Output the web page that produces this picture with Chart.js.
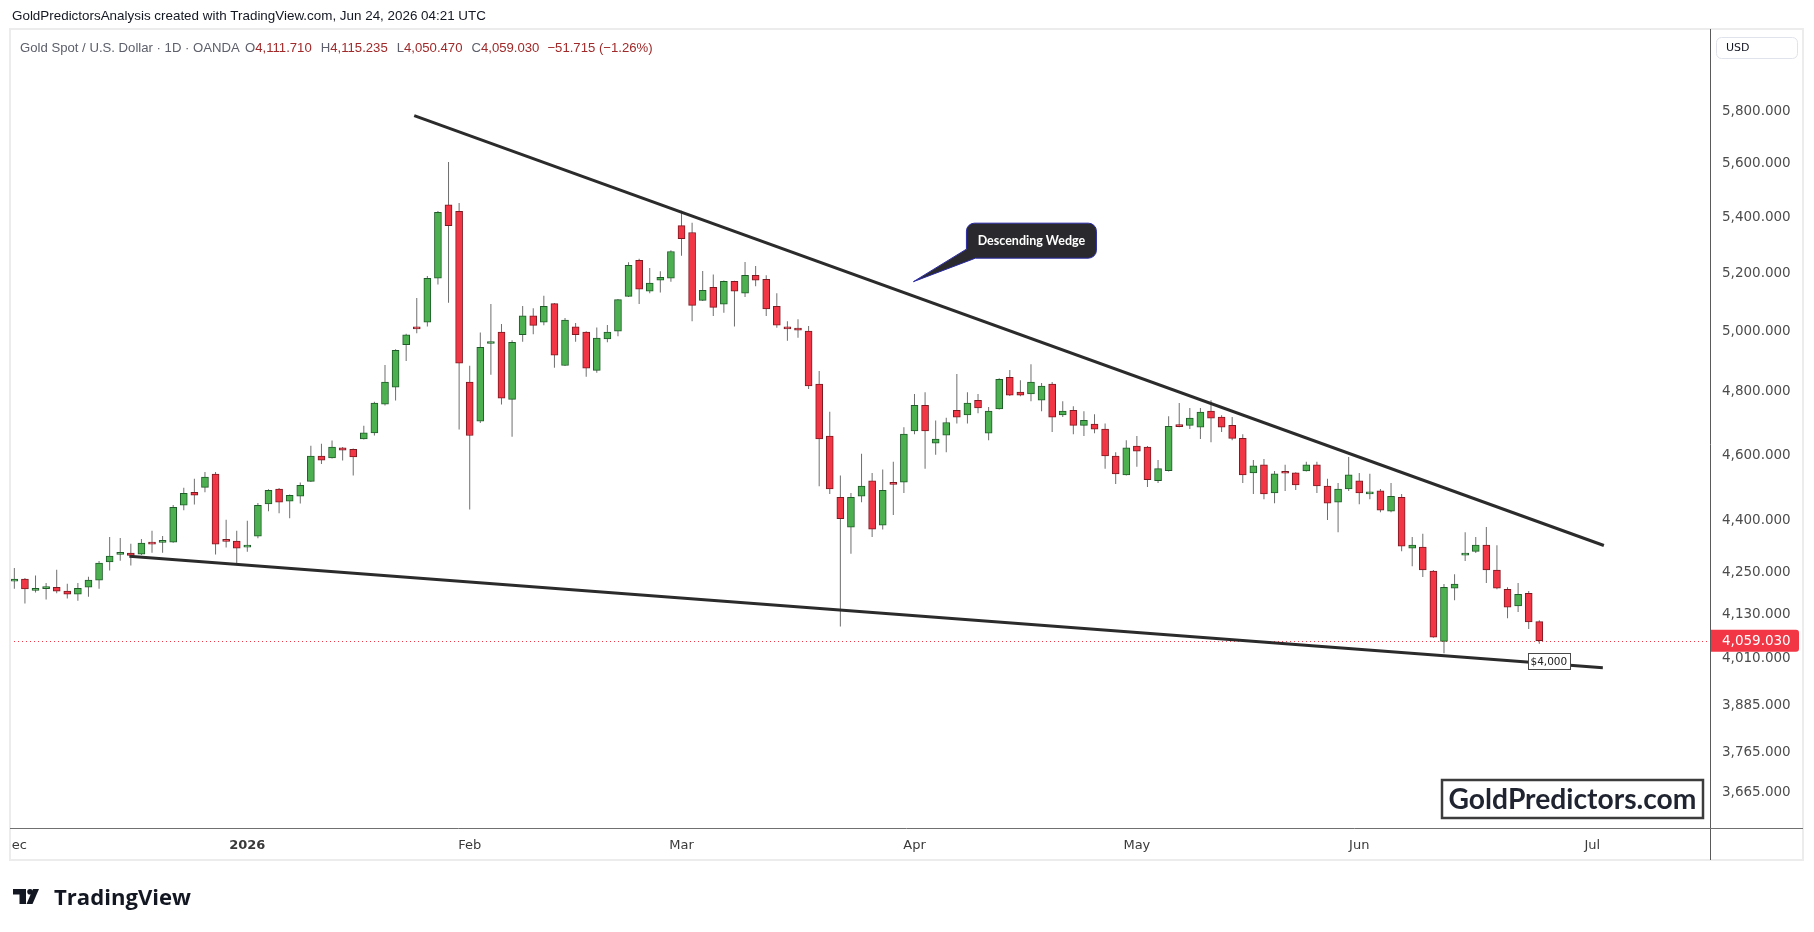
<!DOCTYPE html>
<html>
<head>
<meta charset="utf-8">
<title>Gold Spot / U.S. Dollar 1D</title>
<script src="https://cdn.jsdelivr.net/npm/chart.js@4"></script>
<style>
  html, body { margin: 0; padding: 0; background: #fff; }
</style>
</head>
<body>
<canvas id="goldChart" width="1814" height="932"></canvas>
<script>
// daily candles, 1 Dec 2025 .. 24 Jun 2026 (trading days only)
const opens = [4225,4231,4199,4204,4208,4197,4188,4208,4228,4280,
  4302,4306,4303,4338,4337,4338,4447,4486,4501,4541,
  4342,4341,4323,4355,4451,4496,4459,4474,4519,4597,
  4591,4622,4618,4650,4669,4760,4815,4955,5015,5031,
  5182,5445,5421,4832,4706,4959,4997,4776,4989,5052,
  5031,5094,4886,5015,4997,4870,4974,5000,5119,5245,
  5137,5175,5182,5369,5344,5105,5150,5092,5171,5130,
  5192,5178,5085,5015,5011,5001,4825,4659,4471,4382,
  4474,4521,4388,4512,4517,4675,4757,4637,4662,4741,
  4726,4773,4668,4745,4847,4799,4793,4773,4825,4726,
  4741,4693,4697,4681,4597,4539,4628,4625,4521,4552,
  4691,4693,4687,4738,4719,4693,4652,4545,4570,4484,
  4546,4545,4551,4570,4505,4456,4496,4521,4481,4490,
  4429,4471,4320,4323,4254,4057,4205,4300,4311,4329,
  4257,4202,4155,4191,4111.71];
const highs = [4263,4234,4241,4220,4258,4218,4220,4238,4283,4353,
  4350,4333,4347,4371,4356,4448,4500,4527,4548,4548,
  4404,4371,4401,4454,4495,4499,4479,4516,4629,4635,
  4645,4625,4620,4692,4768,4888,4940,4992,5113,5190,
  5422,5604,5451,4885,4996,5093,5025,4970,5086,5078,
  5121,5096,5045,5028,5000,5013,5021,5110,5238,5250,
  5218,5206,5281,5423,5379,5207,5195,5174,5173,5239,
  5225,5192,5130,5034,5041,5018,4868,4736,4537,4484,
  4604,4545,4555,4579,4687,4793,4799,4708,4717,4858,
  4799,4793,4751,4844,4871,4838,4890,4829,4832,4770,
  4754,4738,4728,4699,4609,4646,4659,4628,4585,4722,
  4764,4748,4748,4773,4725,4719,4665,4585,4588,4551,
  4570,4547,4579,4579,4527,4514,4594,4545,4542,4496,
  4514,4481,4353,4362,4257,4217,4245,4367,4353,4382,
  4329,4208,4220,4197,4115.235];
const lows = [4204,4162,4193,4173,4191,4176,4170,4181,4204,4256,
  4284,4270,4300,4307,4307,4336,4432,4449,4486,4302,
  4322,4272,4310,4349,4429,4423,4408,4452,4517,4572,
  4589,4583,4537,4648,4661,4756,4772,4901,4993,5016,
  5160,5097,4680,4434,4700,4856,4759,4657,4965,4990,
  5020,4879,4884,4965,4849,4862,4963,4983,5117,5093,
  5130,5132,5170,5261,5034,5103,5052,5063,5016,5117,
  5154,5052,5012,4968,4978,4809,4504,4481,4098,4304,
  4456,4353,4375,4418,4484,4665,4558,4601,4609,4699,
  4699,4731,4646,4743,4787,4786,4770,4738,4672,4719,
  4665,4659,4668,4558,4511,4537,4564,4502,4514,4549,
  4687,4681,4650,4640,4672,4646,4514,4481,4465,4453,
  4490,4493,4549,4484,4403,4367,4490,4450,4465,4426,
  4426,4311,4268,4237,4067,4025,4171,4283,4306,4220,
  4202,4121,4138,4091,4050.47];
const closes = [4231,4203,4201,4206,4197,4188,4205,4228,4277,4297,
  4304,4299,4335,4332,4339,4441,4483,4477,4532,4332,
  4340,4320,4329,4447,4492,4456,4477,4507,4597,4584,
  4625,4615,4594,4669,4764,4832,4936,4988,5008,5182,
  5417,5369,4894,4661,4946,4962,4780,4963,5052,5020,
  5085,4920,5038,4989,4877,4977,4997,5108,5227,5144,
  5165,5185,5276,5322,5088,5140,5081,5171,5137,5192,
  5175,5076,5021,5008,5004,4819,4650,4496,4407,4471,
  4505,4376,4492,4510,4665,4757,4675,4650,4702,4719,
  4764,4748,4738,4841,4789,4789,4832,4819,4719,4738,
  4693,4709,4681,4597,4542,4622,4612,4524,4558,4690,
  4689,4716,4735,4716,4687,4652,4539,4567,4481,4542,
  4544,4508,4570,4505,4453,4496,4539,4484,4487,4432,
  4474,4326,4329,4257,4069,4208,4217,4306,4329,4257,
  4205,4152,4188,4110.745,4059.03];

// month labels sit on the first trading day of each month (bar index)
const monthIdx = [0, 22, 43, 63, 85, 106, 127, 149];
const monthLabels = ['Dec', '2026', 'Feb', 'Mar', 'Apr', 'May', 'Jun', 'Jul'];
const yTicks = [3665, 3765, 3885, 4010, 4130, 4250, 4400, 4600, 4800, 5000, 5200, 5400, 5600, 5800];

// drawn trend lines (bar index, price)
const wedgeUpper = [{x: 37.76, y: 5782}, {x: 150.1, y: 4328}];
const wedgeLower = [{x: 10.86, y: 4297}, {x: 150.0, y: 3986}];
const calloutTip = {x: 84.9, y: 5170};
const supportTag = {x: 144.9, y: 4003};

const UP = '#4caf50', UP_EDGE = '#1e5b28';
const DOWN = '#f23645', DOWN_EDGE = '#7c1a22';
const WICK = '#6f6f6f';
const last = closes.length - 1;
const isUp = i => closes[i] >= opens[i];

const fmt = v => v.toLocaleString('en-US', {minimumFractionDigits: 3, maximumFractionDigits: 3});

function fitFont(c, text, weight, family, width) {
  c.font = weight + ' 20px ' + family;
  const size = 20 * width / c.measureText(text).width;
  c.font = weight + ' ' + size.toFixed(2) + 'px ' + family;
}

const overlay = {
  id: 'overlay',
  beforeDraw(chart) {
    const c = chart.ctx;
    c.save();
    c.fillStyle = '#fff';
    c.fillRect(0, 0, chart.width, chart.height);
    c.restore();
  },
  beforeDatasetsDraw(chart) {
    // dotted last-price line
    const c = chart.ctx, a = chart.chartArea;
    const y = Math.round(chart.scales.y.getPixelForValue(closes[last])) + 0.5;
    c.save();
    c.strokeStyle = DOWN;
    c.lineWidth = 1;
    c.setLineDash([1, 3]);
    c.beginPath(); c.moveTo(a.left, y); c.lineTo(a.right, y); c.stroke();
    c.restore();
  },
  afterDraw(chart) {
    const c = chart.ctx;
    const xs = chart.scales.x, ys = chart.scales.y;
    c.save();

    // widget edge cuts the first month label
    c.fillStyle = '#fff';
    c.fillRect(0, 829, 10, 31);
    c.strokeStyle = '#ececec';
    c.lineWidth = 2;
    c.strokeRect(10, 29, 1793, 831);

    // axis lines
    c.lineWidth = 1;
    c.strokeStyle = '#5a5a5a';
    c.beginPath(); c.moveTo(1710.5, 29); c.lineTo(1710.5, 860); c.stroke();
    c.strokeStyle = '#707070';
    c.beginPath(); c.moveTo(10, 828.5); c.lineTo(1803, 828.5); c.stroke();

    // snapshot header
    c.textBaseline = 'middle';
    c.textAlign = 'left';
    c.fillStyle = '#131722';
    fitFont(c, 'GoldPredictorsAnalysis created with TradingView.com, Jun 24, 2026 04:21 UTC', 'normal', '"Liberation Sans"', 474);
    c.fillText('GoldPredictorsAnalysis created with TradingView.com, Jun 24, 2026 04:21 UTC', 12, 16);

    // OHLC legend, laid out left to right
    const chg = closes[last] - closes[last - 1];
    const pct = chg / closes[last - 1] * 100;
    const minus = s => s.replace('-', '\u2212');
    const GRAY = '#5d606b', VAL = '#a02a2a';
    const title = 'Gold Spot / U.S. Dollar \u00b7 1D \u00b7 OANDA';
    fitFont(c, title, 'normal', '"Liberation Sans"', 220);
    c.fillStyle = GRAY;
    c.fillText(title, 20, 48);
    const parts = [
      ['O', GRAY, 5], [fmt(opens[last]), VAL, 0],
      ['H', GRAY, 9], [fmt(highs[last]), VAL, 0],
      ['L', GRAY, 9], [fmt(lows[last]), VAL, 0],
      ['C', GRAY, 9], [fmt(closes[last]), VAL, 0],
      [minus(fmt(chg)) + ' (' + minus(pct.toFixed(2)) + '%)', VAL, 8]
    ];
    let lx = 240;
    parts.forEach(([t, col, gap]) => {
      lx += gap;
      c.fillStyle = col;
      c.fillText(t, lx, 48);
      lx += c.measureText(t).width;
    });

    // currency box
    c.strokeStyle = '#e0e3eb';
    c.fillStyle = '#fff';
    c.beginPath(); c.roundRect(1716.5, 37.5, 81, 21, 5); c.fill(); c.stroke();
    c.fillStyle = '#131722';
    c.font = '11px "DejaVu Sans"';
    c.fillText('USD', 1726, 48.5);

    // last price tag on the axis
    const py = ys.getPixelForValue(closes[last]);
    c.fillStyle = DOWN;
    c.beginPath(); c.roundRect(1711, py - 11, 88, 22, [0, 3, 3, 0]); c.fill();
    c.fillStyle = '#fff';
    c.font = '13.5px "DejaVu Sans"';
    c.fillText(fmt(closes[last]), 1722, py + 0.5);

    // callout
    const tx = xs.getPixelForValue(calloutTip.x), ty = ys.getPixelForValue(calloutTip.y);
    const bx = tx + 53, by = ty - 58.5, bw = 130, bh = 35, r = 8;
    c.beginPath();
    c.moveTo(bx + r, by);
    c.lineTo(bx + bw - r, by); c.arcTo(bx + bw, by, bx + bw, by + r, r);
    c.lineTo(bx + bw, by + bh - r); c.arcTo(bx + bw, by + bh, bx + bw - r, by + bh, r);
    c.lineTo(bx + 9, by + bh);
    c.lineTo(tx, ty);
    c.lineTo(bx, by + 26);
    c.lineTo(bx, by + r); c.arcTo(bx, by, bx + r, by, r);
    c.closePath();
    c.fillStyle = '#2a2a2e';
    c.strokeStyle = '#2b2ba6';
    c.fill(); c.stroke();
    c.fillStyle = '#fff';
    c.textAlign = 'center';
    c.font = 'bold 12.5px Lato';
    c.fillText('Descending Wedge', bx + bw / 2, by + bh / 2 + 0.5);

    // support tag
    const sx = xs.getPixelForValue(supportTag.x), sy = ys.getPixelForValue(supportTag.y);
    c.fillStyle = '#fff';
    c.strokeStyle = '#4a4a4a';
    c.fillRect(Math.round(sx - 21) + 0.5, Math.round(sy - 8) + 0.5, 42, 16);
    c.strokeRect(Math.round(sx - 21) + 0.5, Math.round(sy - 8) + 0.5, 42, 16);
    c.fillStyle = '#222';
    c.font = '10.5px "DejaVu Sans"';
    c.fillText('$4,000', sx, sy + 1);

    // watermark
    c.fillStyle = '#fff';
    c.strokeStyle = '#3c3c3c';
    c.lineWidth = 2.5;
    c.fillRect(1442, 780, 261, 38);
    c.strokeRect(1442, 780, 261, 38);
    c.fillStyle = '#1f2430';
    fitFont(c, 'GoldPredictors.com', 'bold', 'Lato', 248);
    c.fillText('GoldPredictors.com', 1572.5, 800);

    // TradingView logo
    c.fillStyle = '#131722';
    c.fillRect(13, 889, 13, 5.5);
    c.fillRect(19.5, 889, 6.5, 15);
    c.beginPath(); c.arc(30, 891.8, 2.8, 0, Math.PI * 2); c.fill();
    c.beginPath();
    c.moveTo(33, 889); c.lineTo(39, 889); c.lineTo(32.5, 904); c.lineTo(26.5, 904);
    c.closePath(); c.fill();
    c.textAlign = 'left';
    c.textBaseline = 'alphabetic';
    fitFont(c, 'TradingView', 'bold', '"Open Sans"', 137);
    c.fillText('TradingView', 54, 905);

    c.restore();
  }
};

new Chart(document.getElementById('goldChart'), {
  type: 'bar',
  data: {
    datasets: [
      {
        type: 'line', data: wedgeUpper, borderColor: '#2b2b2b', borderWidth: 3,
        pointRadius: 0, tension: 0, fill: false, order: 1
      },
      {
        type: 'line', data: wedgeLower, borderColor: '#2b2b2b', borderWidth: 3,
        pointRadius: 0, tension: 0, fill: false, order: 1
      },
      {
        label: 'body',
        data: opens.map((o, i) => ({x: i, y: [o, closes[i]]})),
        backgroundColor: ctx => isUp(ctx.dataIndex) ? UP : DOWN,
        borderColor: ctx => isUp(ctx.dataIndex) ? UP_EDGE : DOWN_EDGE,
        borderWidth: 1,
        borderSkipped: false,
        barThickness: 7,
        minBarLength: 2,
        grouped: false,
        order: 2
      },
      {
        label: 'wick',
        data: lows.map((l, i) => ({x: i, y: [l, highs[i]]})),
        backgroundColor: WICK,
        borderWidth: 0,
        inflateAmount: 0,
        barThickness: 1,
        grouped: false,
        order: 3
      }
    ]
  },
  options: {
    responsive: false,
    animation: false,
    devicePixelRatio: 1,
    layout: {padding: {left: 10, top: 29, right: 11, bottom: 72}},
    plugins: {legend: {display: false}, tooltip: {enabled: false}},
    scales: {
      x: {
        type: 'linear',
        min: -0.41,
        max: 160.12,
        offset: false,
        bounds: 'data',
        grid: {display: false, drawTicks: false},
        border: {display: false},
        afterBuildTicks: s => { s.ticks = monthIdx.map(v => ({value: v})); },
        afterFit: s => { s.height = 32; s.paddingLeft = 0; s.paddingRight = 0; },
        ticks: {
          autoSkip: false,
          maxRotation: 0,
          padding: 10,
          color: '#3a3a3a',
          font: ctx => ({family: 'DejaVu Sans', size: 13, weight: ctx.index === 1 ? 'bold' : 'normal'}),
          callback: (v, i) => monthLabels[i]
        }
      },
      y: {
        type: 'logarithmic',
        position: 'right',
        min: 3577.8,
        max: 6129.5,
        bounds: 'data',
        grid: {display: false, drawTicks: false},
        border: {display: false},
        afterBuildTicks: s => { s.ticks = yTicks.map(v => ({value: v})); },
        afterFit: s => { s.width = 93; s.paddingTop = 0; s.paddingBottom = 0; },
        ticks: {
          autoSkip: false,
          padding: 12,
          color: '#4c4c4c',
          font: {family: 'DejaVu Sans', size: 13.5},
          callback: v => fmt(v)
        }
      }
    }
  },
  plugins: [overlay]
});
</script>
</body>
</html>
